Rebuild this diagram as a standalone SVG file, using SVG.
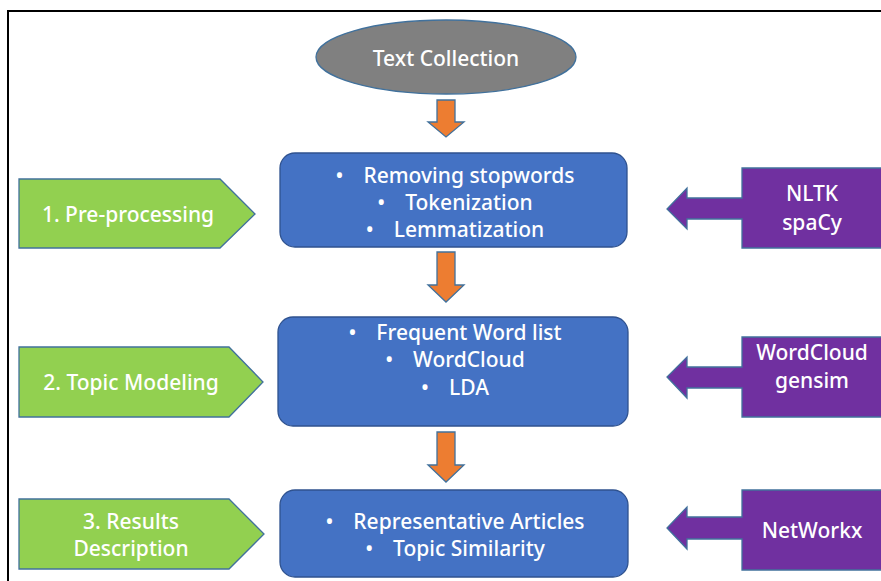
<svg xmlns="http://www.w3.org/2000/svg" width="881" height="581" viewBox="0 0 881 581">
<style>
text{font-family:"Noto Sans","Open Sans","Liberation Sans",sans-serif;font-size:21px;font-weight:500;fill:#fff;text-anchor:middle;dominant-baseline:central}
.box{fill:#4472C4;stroke:#2F528F;stroke-width:1.3}
.green{fill:#92D050;stroke:#41719C;stroke-width:1.3}
.purple{fill:#7030A0;stroke:#41719C;stroke-width:1.3}
.orange{fill:#ED7D31;stroke:#41719C;stroke-width:1.3}
</style>
<rect width="881" height="581" fill="#fff"/>
<rect x="8" y="11" width="900" height="600" fill="none" stroke="#000" stroke-width="2"/>
<g id="connectors">
<polygon class="orange" points="437,100 455,100 455,122 464,122 446,137 428,122 437,122"/>
<polygon class="orange" points="437,252 455,252 455,285 464,285 446,302 428,285 437,285"/>
<polygon class="orange" points="437,432 455,432 455,465 464,465 446,482 428,465 437,465"/>
</g>
<g id="text-collection">
<ellipse cx="446" cy="57" rx="130" ry="37" fill="#808080" stroke="#41719C" stroke-width="1.3"/>
<text x="446" y="58">Text Collection</text>
</g>
<g id="preprocessing-box">
<rect class="box" x="280" y="153" width="347" height="94" rx="15"/>
<text x="455" y="175">•<tspan dx="20">Removing stopwords</tspan></text>
<text x="455" y="202">•<tspan dx="20">Tokenization</tspan></text>
<text x="455" y="229">•<tspan dx="20">Lemmatization</tspan></text>
</g>
<g id="topic-box">
<rect class="box" x="278" y="317" width="350" height="109" rx="15"/>
<text x="455" y="332">•<tspan dx="20">Frequent Word list</tspan></text>
<text x="455" y="359">•<tspan dx="20">WordCloud</tspan></text>
<text x="455" y="387">•<tspan dx="20">LDA</tspan></text>
</g>
<g id="results-box">
<rect class="box" x="280" y="490" width="348" height="87" rx="15"/>
<text x="455" y="521">•<tspan dx="20">Representative Articles</tspan></text>
<text x="455" y="548">•<tspan dx="20">Topic Similarity</tspan></text>
</g>
<g id="step1">
<polygon class="green" points="19,179 220,179 255,214 220,248 19,248"/>
<text x="128" y="214">1. Pre-processing</text>
</g>
<g id="step2">
<polygon class="green" points="19,347 229,347 263,382 229,417 19,417"/>
<text x="131" y="382">2. Topic Modeling</text>
</g>
<g id="step3">
<polygon class="green" points="19,499 229,499 264,534 229,569 19,569"/>
<text x="131" y="521">3. Results</text>
<text x="131" y="548">Description</text>
</g>
<g id="tools1">
<polygon class="purple" points="742,168 890,168 890,248 742,248 742,219 687,219 687,229 667,209 687,188 687,198 742,198"/>
<text x="812" y="193">NLTK</text>
<text x="812" y="222">spaCy</text>
</g>
<g id="tools2">
<polygon class="purple" points="742,337 890,337 890,417 742,417 742,388 687,388 687,398 667,377 687,357 687,367 742,367"/>
<text x="812" y="352">WordCloud</text>
<text x="812" y="380">gensim</text>
</g>
<g id="tools3">
<polygon class="purple" points="742,490 890,490 890,570 742,570 742,539 687,539 687,549 667,528 687,507 687,517 742,517"/>
<text x="812" y="530">NetWorkx</text>
</g>
</svg>
